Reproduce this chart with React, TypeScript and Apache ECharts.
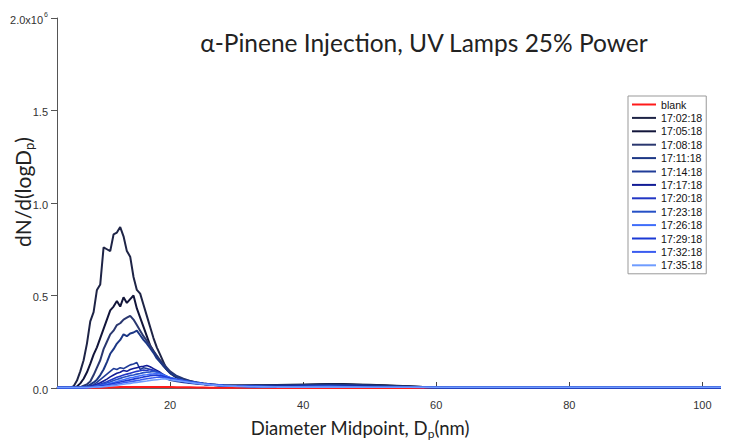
import React, { useEffect, useRef } from "react";
import * as echarts from "echarts";

// Diameter midpoints (nm)
const diameters = [
  3, 5, 5.5, 6, 6.5, 7, 7.5, 8, 8.5, 9,
  9.5, 10, 10.5, 11, 11.5, 12, 12.5, 13, 13.5, 14,
  14.5, 15, 15.5, 16, 16.5, 17, 17.5, 18, 18.5, 19,
  19.5, 20, 21, 22, 23, 24, 25, 26, 27, 28,
  30, 32, 34, 36, 38, 40, 42, 44, 46, 48,
  50, 52, 54, 56, 58, 60, 62, 65, 70, 80,
  90, 100, 104,
];

// dN/d(logDp) in units of 10^6
const blank = [
  0, 0, 0, 0, 0, 0, 0, 0, 0.001, 0.001,
  0.002, 0.002, 0.003, 0.003, 0.004, 0.004, 0.005, 0.005, 0.005, 0.005,
  0.005, 0.005, 0.005, 0.005, 0.005, 0.005, 0.005, 0.005, 0.005, 0.005,
  0.005, 0.005, 0.004, 0.004, 0.004, 0.003, 0.003, 0.002, 0.002, 0.002,
  0.001, 0.001, 0.001, 0, 0, 0, 0, 0, 0, 0,
  0, 0, 0, 0, 0, 0, 0, 0, 0, 0,
  0, 0, 0,
];
const t170218 = [
  0.002, 0.002, 0.01, 0.04, 0.09, 0.15, 0.24, 0.36, 0.41, 0.53,
  0.56, 0.76, 0.75, 0.74, 0.83, 0.84, 0.87, 0.82, 0.74, 0.71,
  0.6, 0.53, 0.51, 0.45, 0.39, 0.33, 0.27, 0.22, 0.18, 0.14,
  0.1, 0.08, 0.055, 0.042, 0.033, 0.027, 0.022, 0.018, 0.016, 0.014,
  0.013, 0.014, 0.015, 0.016, 0.017, 0.018, 0.02, 0.022, 0.021, 0.019,
  0.017, 0.015, 0.012, 0.009, 0.006, 0.004, 0.003, 0.002, 0.002, 0.002,
  0.002, 0.002, 0.002,
];
const t170518 = [
  0.002, 0.002, 0.002, 0.008, 0.025, 0.05, 0.085, 0.13, 0.18, 0.22,
  0.27, 0.32, 0.37, 0.42, 0.44, 0.47, 0.44, 0.49, 0.46, 0.48,
  0.5, 0.43, 0.38, 0.33, 0.28, 0.23, 0.2, 0.17, 0.145, 0.12,
  0.1, 0.085, 0.06, 0.045, 0.035, 0.028, 0.022, 0.018, 0.015, 0.013,
  0.012, 0.013, 0.014, 0.015, 0.016, 0.017, 0.018, 0.02, 0.019, 0.017,
  0.015, 0.013, 0.011, 0.008, 0.005, 0.003, 0.002, 0.002, 0.002, 0.002,
  0.002, 0.002, 0.002,
];
const t170818 = [
  0.002, 0.002, 0.002, 0.002, 0.005, 0.012, 0.02, 0.035, 0.07, 0.11,
  0.15, 0.21, 0.25, 0.29, 0.31, 0.34, 0.35, 0.37, 0.38, 0.39,
  0.37, 0.34, 0.31, 0.28, 0.255, 0.23, 0.2, 0.175, 0.15, 0.13,
  0.11, 0.09, 0.065, 0.05, 0.038, 0.03, 0.024, 0.02, 0.016, 0.014,
  0.012, 0.012, 0.013, 0.014, 0.015, 0.016, 0.017, 0.018, 0.017, 0.016,
  0.014, 0.012, 0.01, 0.007, 0.005, 0.003, 0.002, 0.002, 0.002, 0.002,
  0.002, 0.002, 0.002,
];
const t171118 = [
  0.002, 0.002, 0.002, 0.002, 0.002, 0.004, 0.01, 0.018, 0.03, 0.045,
  0.07, 0.1, 0.14, 0.185, 0.21, 0.24, 0.26, 0.29, 0.28, 0.295,
  0.3, 0.31, 0.285, 0.26, 0.24, 0.215, 0.19, 0.16, 0.14, 0.12,
  0.1, 0.08, 0.06, 0.045, 0.036, 0.03, 0.024, 0.02, 0.017, 0.014,
  0.012, 0.012, 0.012, 0.013, 0.014, 0.015, 0.016, 0.017, 0.016, 0.015,
  0.013, 0.011, 0.009, 0.007, 0.005, 0.003, 0.002, 0.002, 0.002, 0.002,
  0.002, 0.002, 0.002,
];
const t171418 = [
  0.002, 0.002, 0.002, 0.002, 0.003, 0.005, 0.008, 0.012, 0.018, 0.03,
  0.045, 0.06, 0.075, 0.09, 0.105, 0.1, 0.11, 0.105, 0.115, 0.125,
  0.13, 0.138, 0.1, 0.11, 0.105, 0.1, 0.095, 0.088, 0.08, 0.065,
  0.05, 0.042, 0.035, 0.03, 0.026, 0.022, 0.019, 0.016, 0.014, 0.012,
  0.01, 0.009, 0.009, 0.009, 0.01, 0.01, 0.011, 0.012, 0.011, 0.01,
  0.009, 0.008, 0.007, 0.006, 0.005, 0.004, 0.003, 0.003, 0.003, 0.003,
  0.003, 0.003, 0.003,
];
const t171718 = [
  0.002, 0.002, 0.002, 0.002, 0.002, 0.003, 0.005, 0.008, 0.012, 0.02,
  0.028, 0.038, 0.048, 0.06, 0.07, 0.08, 0.085, 0.095, 0.09, 0.1,
  0.105, 0.11, 0.115, 0.118, 0.122, 0.115, 0.105, 0.095, 0.085, 0.072,
  0.06, 0.05, 0.04, 0.034, 0.029, 0.025, 0.021, 0.018, 0.015, 0.013,
  0.011, 0.01, 0.009, 0.009, 0.009, 0.01, 0.01, 0.011, 0.01, 0.009,
  0.008, 0.007, 0.006, 0.005, 0.004, 0.004, 0.003, 0.003, 0.003, 0.003,
  0.003, 0.003, 0.003,
];
const t172018 = [
  0.002, 0.002, 0.002, 0.002, 0.002, 0.002, 0.004, 0.006, 0.01, 0.015,
  0.02, 0.027, 0.034, 0.042, 0.05, 0.058, 0.064, 0.07, 0.075, 0.08,
  0.085, 0.09, 0.093, 0.097, 0.095, 0.1, 0.094, 0.088, 0.08, 0.072,
  0.062, 0.054, 0.044, 0.036, 0.03, 0.026, 0.022, 0.019, 0.016, 0.013,
  0.011, 0.009, 0.008, 0.008, 0.008, 0.009, 0.009, 0.01, 0.009, 0.008,
  0.007, 0.006, 0.005, 0.005, 0.004, 0.004, 0.003, 0.003, 0.003, 0.003,
  0.003, 0.003, 0.003,
];
const t172318 = [
  0.002, 0.002, 0.002, 0.002, 0.002, 0.002, 0.003, 0.005, 0.008, 0.012,
  0.016, 0.021, 0.027, 0.033, 0.04, 0.046, 0.052, 0.058, 0.062, 0.068,
  0.07, 0.075, 0.078, 0.083, 0.085, 0.087, 0.09, 0.086, 0.08, 0.072,
  0.064, 0.056, 0.046, 0.038, 0.032, 0.027, 0.023, 0.019, 0.016, 0.014,
  0.011, 0.009, 0.008, 0.007, 0.007, 0.008, 0.008, 0.009, 0.008, 0.007,
  0.006, 0.006, 0.005, 0.004, 0.004, 0.003, 0.003, 0.003, 0.003, 0.003,
  0.003, 0.003, 0.003,
];
const t172618 = [
  0.002, 0.002, 0.002, 0.002, 0.002, 0.002, 0.002, 0.004, 0.006, 0.009,
  0.012, 0.016, 0.02, 0.025, 0.03, 0.035, 0.04, 0.045, 0.05, 0.055,
  0.058, 0.062, 0.066, 0.07, 0.072, 0.075, 0.077, 0.08, 0.076, 0.07,
  0.064, 0.057, 0.048, 0.04, 0.034, 0.029, 0.024, 0.02, 0.017, 0.014,
  0.011, 0.009, 0.008, 0.007, 0.007, 0.007, 0.008, 0.008, 0.007, 0.007,
  0.006, 0.005, 0.005, 0.004, 0.004, 0.003, 0.003, 0.003, 0.003, 0.003,
  0.003, 0.003, 0.003,
];
const t172918 = [
  0.002, 0.002, 0.002, 0.002, 0.002, 0.002, 0.002, 0.003, 0.005, 0.007,
  0.01, 0.013, 0.016, 0.02, 0.024, 0.028, 0.032, 0.036, 0.04, 0.044,
  0.048, 0.052, 0.055, 0.06, 0.062, 0.066, 0.068, 0.07, 0.067, 0.063,
  0.058, 0.052, 0.045, 0.038, 0.032, 0.027, 0.023, 0.019, 0.016, 0.013,
  0.01, 0.008, 0.007, 0.006, 0.006, 0.006, 0.007, 0.007, 0.006, 0.006,
  0.005, 0.005, 0.004, 0.004, 0.003, 0.003, 0.003, 0.003, 0.003, 0.003,
  0.003, 0.003, 0.003,
];
const t173218 = [
  0.002, 0.002, 0.002, 0.002, 0.002, 0.002, 0.002, 0.003, 0.004, 0.005,
  0.007, 0.009, 0.012, 0.015, 0.018, 0.021, 0.024, 0.028, 0.031, 0.034,
  0.037, 0.04, 0.043, 0.047, 0.05, 0.053, 0.055, 0.058, 0.06, 0.057,
  0.053, 0.049, 0.043, 0.037, 0.031, 0.026, 0.022, 0.018, 0.015, 0.012,
  0.01, 0.008, 0.006, 0.006, 0.005, 0.005, 0.006, 0.006, 0.006, 0.005,
  0.005, 0.004, 0.004, 0.004, 0.003, 0.003, 0.003, 0.003, 0.003, 0.003,
  0.003, 0.003, 0.003,
];
const t173518 = [
  0.003, 0.003, 0.003, 0.003, 0.003, 0.003, 0.003, 0.003, 0.004, 0.005,
  0.006, 0.007, 0.009, 0.011, 0.013, 0.015, 0.018, 0.02, 0.023, 0.025,
  0.028, 0.03, 0.033, 0.036, 0.038, 0.041, 0.043, 0.045, 0.047, 0.05,
  0.048, 0.045, 0.04, 0.035, 0.03, 0.025, 0.021, 0.017, 0.014, 0.012,
  0.009, 0.007, 0.006, 0.005, 0.005, 0.005, 0.005, 0.005, 0.005, 0.005,
  0.004, 0.004, 0.004, 0.004, 0.004, 0.004, 0.004, 0.004, 0.004, 0.004,
  0.004, 0.004, 0.004,
];

const seriesNames = [
  "blank", "17:02:18", "17:05:18", "17:08:18", "17:11:18", "17:14:18", "17:17:18",
  "17:20:18", "17:23:18", "17:26:18", "17:29:18", "17:32:18", "17:35:18",
];
const seriesValues = [
  blank, t170218, t170518, t170818, t171118, t171418, t171718,
  t172018, t172318, t172618, t172918, t173218, t173518,
];
const seriesColors = [
  "#ff1a1a", "#1e2446", "#12153a", "#2a376f", "#1c3785", "#203c98", "#121c96",
  "#2236c4", "#2550c6", "#3f6dfa", "#1b39d4", "#3a5cf0", "#6f9cff",
];

const xTicks = [20, 40, 60, 80, 100];

export default function App() {
  const ref = useRef<HTMLDivElement>(null);
  useEffect(() => {
    if (!ref.current) return;
    const chart = echarts.init(ref.current, null, { renderer: "svg" });
    const labelFont = "'Liberation Sans', Arial, sans-serif";
    const titleFont = "Lato, 'Open Sans', sans-serif";
    chart.setOption({
      animation: false,
      backgroundColor: "#ffffff",
      grid: { left: 57, right: 0, top: 18, bottom: 59, containLabel: false },
      xAxis: {
        type: "value",
        min: 3,
        max: 104,
        axisLine: { show: true, lineStyle: { color: "#333", width: 1.5 } },
        axisTick: {
          show: true,
          inside: true,
          length: 6,
          customValues: xTicks,
          lineStyle: { color: "#444", width: 1 },
        },
        axisLabel: {
          customValues: xTicks,
          fontFamily: labelFont,
          fontSize: 11,
          color: "#333",
          margin: 11,
        },
        splitLine: { show: false },
      },
      yAxis: {
        type: "value",
        min: 0,
        max: 2,
        interval: 0.5,
        axisLine: { show: true, lineStyle: { color: "#555", width: 1 } },
        axisTick: { show: true, inside: false, length: 6, lineStyle: { color: "#555" } },
        axisLabel: {
          fontFamily: labelFont,
          fontSize: 11,
          color: "#333",
          margin: 9,
          formatter: (v: number) =>
            v === 2 ? "{b|2.0x10}{s|6}" : "{b|" + v.toFixed(1) + "}",
          rich: {
            b: { fontFamily: labelFont, fontSize: 11, color: "#333", lineHeight: 14, verticalAlign: "bottom" },
            s: { fontFamily: labelFont, fontSize: 7, color: "#333", lineHeight: 14, verticalAlign: "top", padding: [0, 0, 0, 1] },
          },
        },
        splitLine: { show: false },
      },
      legend: {
        orient: "vertical",
        left: 628,
        top: 96,
        padding: [3, 4, 3, 4],
        itemGap: 2.4,
        itemWidth: 24,
        itemHeight: 2,
        icon: "rect",
        borderColor: "#999",
        borderWidth: 1,
        backgroundColor: "#fff",
        data: seriesNames,
        textStyle: { fontFamily: labelFont, fontSize: 10.6, lineHeight: 11, color: "#111" },
      },
      graphic: [
        {
          type: "text",
          x: 424,
          y: 42,
          style: {
            text: "α-Pinene Injection, UV Lamps 25% Power",
            align: "center",
            verticalAlign: "middle",
            fontFamily: titleFont,
            fontSize: 24.5,
            fill: "#222",
          },
        },
        {
          type: "text",
          x: 360,
          y: 428,
          style: {
            text: "{a|Diameter Midpoint, D}{s|p}{a|(nm)}",
            align: "center",
            verticalAlign: "middle",
            rich: {
              a: { fontFamily: titleFont, fontSize: 18.5, fill: "#222", lineHeight: 22, verticalAlign: "middle" },
              s: { fontFamily: titleFont, fontSize: 12, fill: "#222", lineHeight: 12, verticalAlign: "bottom" },
            },
          },
        },
        {
          type: "text",
          x: 22,
          y: 192,
          rotation: Math.PI / 2,
          style: {
            text: "{a|dN/d(logD}{s|p}{a|)}",
            align: "center",
            verticalAlign: "middle",
            rich: {
              a: { fontFamily: titleFont, fontSize: 21, fill: "#222", lineHeight: 26, verticalAlign: "middle" },
              s: { fontFamily: titleFont, fontSize: 13, fill: "#222", lineHeight: 13, verticalAlign: "bottom" },
            },
          },
        },
      ],
      series: seriesNames.map((name, i) => ({
        name,
        type: "line",
        showSymbol: false,
        symbol: "none",
        color: seriesColors[i],
        lineStyle: { width: i > 4 ? 1.6 : 2, color: seriesColors[i] },
        data: diameters.map((d, j) => [d, seriesValues[i][j]]),
        z: 2,
      })),
    });
    return () => chart.dispose();
  }, []);
  return <div ref={ref} style={{ width: 729, height: 447, marginLeft: -8, marginTop: -8 }} />;
}
